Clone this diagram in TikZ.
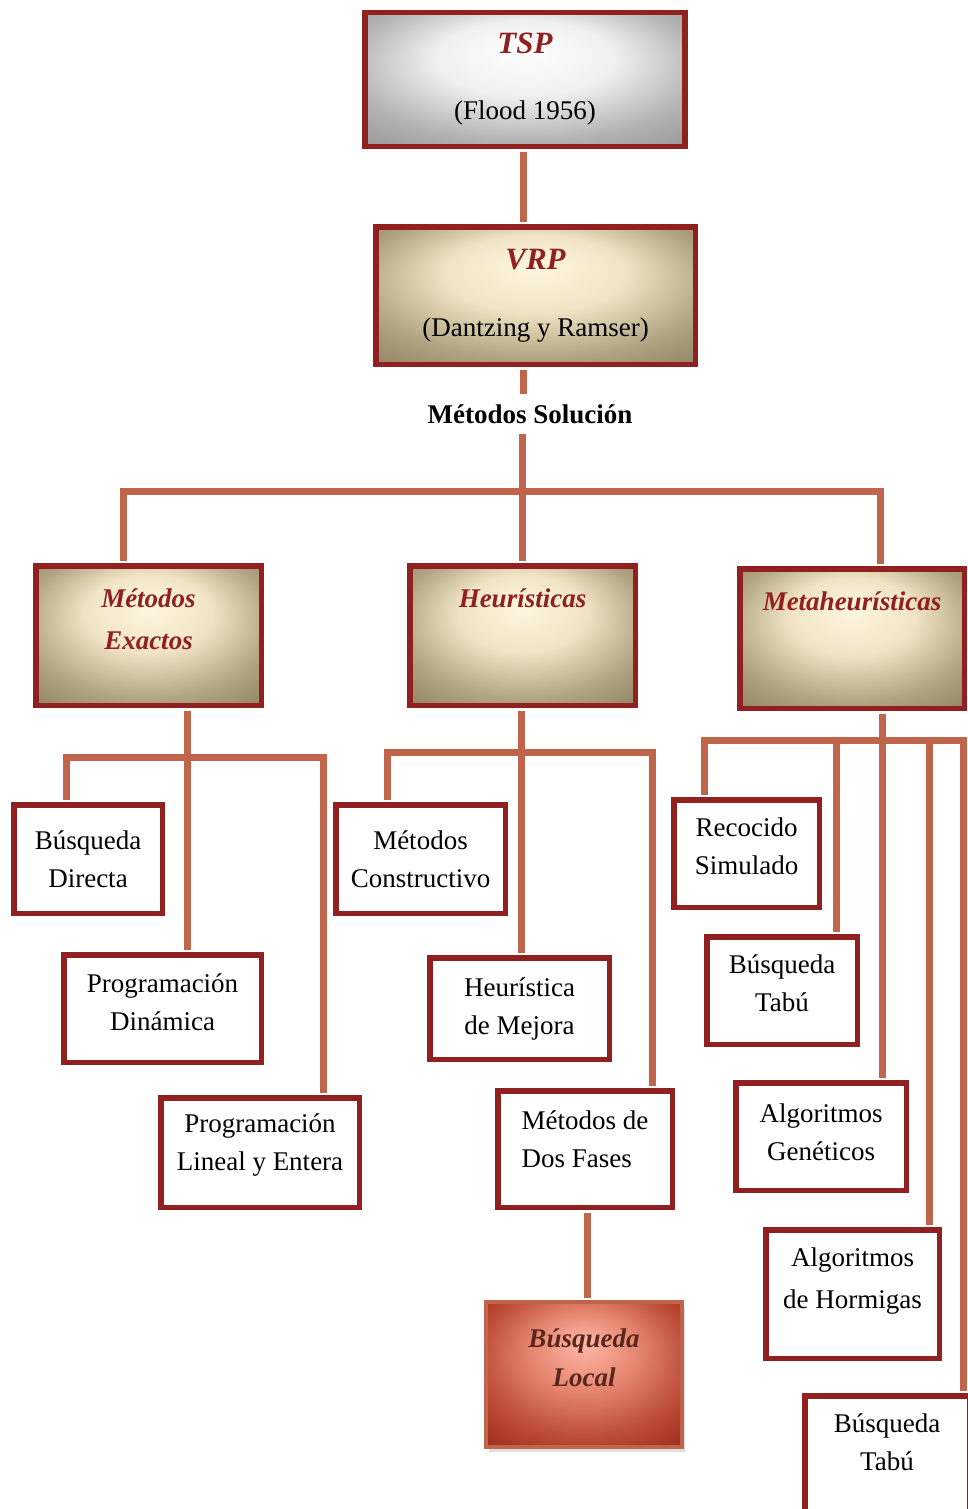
\documentclass[tikz,border=0pt]{standalone}
\usepackage{fontspec}
\setmainfont{Liberation Serif}
\usetikzlibrary{positioning,shadows}
\definecolor{boxred}{RGB}{145,32,32}
\definecolor{linkc}{RGB}{192,101,76}
\definecolor{localtxt}{RGB}{90,38,30}
\definecolor{cream}{RGB}{254,247,224}
\definecolor{creammid}{RGB}{240,228,196}
\definecolor{sandc}{RGB}{176,163,129}
\definecolor{olivec}{RGB}{124,112,82}
\definecolor{pinkc}{RGB}{255,184,168}
\definecolor{rosec}{RGB}{228,132,110}
\definecolor{brickc}{RGB}{185,72,52}
\definecolor{maroonc}{RGB}{138,24,10}
\pgfdeclareradialshading{grayglow}{\pgfpoint{0bp}{11bp}}{color(0bp)=(white); color(14bp)=(black!6); color(28bp)=(black!30); color(44bp)=(black!47); color(50bp)=(black!48)}
\pgfdeclareradialshading{beigeglow}{\pgfpoint{0bp}{11bp}}{color(0bp)=(cream); color(14bp)=(creammid); color(28bp)=(sandc); color(44bp)=(olivec); color(50bp)=(olivec)}
\pgfdeclareradialshading{redglow}{\pgfpoint{0bp}{11bp}}{color(0bp)=(pinkc); color(14bp)=(rosec); color(28bp)=(brickc); color(44bp)=(maroonc); color(50bp)=(maroonc)}
\newcommand{\txtsz}{\fontsize{27}{38}\selectfont}
\newcommand{\ttl}[1]{{\fontsize{31}{38}\selectfont\bfseries\itshape\color{boxred}#1}}

\begin{document}
\begin{tikzpicture}[x=1pt,y=-1pt,font=\txtsz]
\tikzset{
  link/.style={draw=linkc,line width=7pt,shorten <=2.5pt,shorten >=2.5pt},
  leaf/.style={draw=boxred,line width=5.5pt,fill=white,align=center,inner sep=2pt,font=\txtsz},
  topbox/.style={draw=boxred,line width=5.5pt,shade,align=center,font=\txtsz},
  head/.style={topbox,shading=beigeglow,text=boxred,font=\txtsz\bfseries\itshape,minimum height=139.5pt}
}
\useasboundingbox (0,0) rectangle (968,1509);
% problem boxes
\node[topbox,shading=grayglow,minimum width=320pt,minimum height=134pt] (tsp) at (525,79.5) {\ttl{TSP}\\[28pt](Flood 1956)};
\node[topbox,shading=beigeglow,minimum width=319.5pt,minimum height=137.5pt] (vrp) at (535.5,295.5) {\ttl{VRP}\\[29pt](Dantzing y Ramser)};
\node[font=\txtsz\bfseries,inner ysep=8pt] (sol) at (530,414) {Métodos Solución};
% three families
\node[head,minimum width=225.5pt,text depth=33pt] (exact) at (148.5,635.5) {Métodos\\[4pt]Exactos};
\node[head,minimum width=225.5pt,text depth=74pt] (heur) at (522.5,635.5) {Heurísticas};
\node[head,minimum width=224.5pt,text depth=75pt] (meta) at (852,638.5) {Metaheurísticas};
% exact methods
\node[leaf,minimum width=148.5pt,minimum height=108.5pt] (directa) at (88,859) {Búsqueda\\Directa};
\node[leaf,minimum width=197.5pt,minimum height=107.5pt,text depth=12pt] (dyn) at (162.5,1008.5) {Programación\\Dinámica};
\node[leaf,minimum width=198.5pt,minimum height=109.5pt,text depth=20pt] (lineal) at (260,1152.5) {Programación\\Lineal y Entera};
% heuristics
\node[leaf,minimum width=169.5pt,minimum height=108.5pt] (constr) at (420.5,859) {Métodos\\Constructivo};
\node[leaf,minimum width=179.5pt,minimum height=101.5pt] (mejora) at (519.5,1008.5) {Heurística\\de Mejora};
\node[leaf,align=left,minimum width=174.5pt,minimum height=116.5pt,text depth=19pt] (dosf) at (585,1149) {Métodos de\\Dos Fases};
\node[topbox,shading=redglow,draw=linkc,line width=4pt,text=localtxt,font=\txtsz\bfseries\itshape,
  minimum width=196pt,minimum height=145pt,text depth=34pt,
  drop shadow={shadow xshift=3pt,shadow yshift=-5pt,opacity=0.25}] (local) at (584,1374.5) {Búsqueda\\[1pt]Local};
% metaheuristics
\node[leaf,minimum width=145.5pt,minimum height=107.5pt,text depth=14pt] (recoc) at (746.5,853.5) {Recocido\\Simulado};
\node[leaf,minimum width=150.5pt,minimum height=107.5pt,text depth=14pt] (tabu) at (782,990.5) {Búsqueda\\Tabú};
\node[leaf,minimum width=170.5pt,minimum height=107.5pt,text depth=8pt] (genet) at (821,1136.5) {Algoritmos\\Genéticos};
\node[leaf,minimum width=173.5pt,minimum height=128.5pt,text depth=32pt] (horm) at (852.5,1294) {Algoritmos\\[4pt]de Hormigas};
\node[leaf,minimum width=164.5pt,minimum height=121.5pt,text depth=28pt] (tabu2) at (887,1456.5) {Búsqueda\\Tabú};
% connectors
\coordinate (trunk) at (523,0);
\coordinate (topbar) at (523,491);
\coordinate (xbar) at (187,757);
\coordinate (hbar) at (521,752);
\coordinate (mbar) at (882,740);
\draw[link] (tsp.south -| trunk) -- (vrp.north -| trunk);
\draw[link] (vrp.south -| trunk) -- (sol.north -| trunk);
\draw[link] (sol.south -| heur.north) -- (heur.north);
\draw[link] ([xshift=-25.5pt]exact.north) |- (topbar) -| ([xshift=28pt]meta.north);
\draw[link] ([xshift=38.5pt]exact.south) -- ([xshift=24.5pt]dyn.north);
\draw[link] ([xshift=-22pt]directa.north) |- (xbar) -| ([xshift=63pt]lineal.north);
\draw[link] ([xshift=-1.5pt]heur.south) -- ([xshift=1.5pt]mejora.north);
\draw[link] ([xshift=-33.5pt]constr.north) |- (hbar) -| ([xshift=67pt]dosf.north);
\draw[link] ([xshift=2pt]dosf.south) -- ([xshift=3pt]local.north);
\draw[link] ([xshift=30pt]meta.south) -- ([xshift=61pt]genet.north);
\draw[link] ([xshift=-42.5pt]recoc.north) |- (mbar) -| ([xshift=76pt]tabu2.north);
\draw[link] ([xshift=54pt]tabu.north) -- ([xshift=54pt]tabu.north |- mbar);
\draw[link] ([xshift=76.5pt]horm.north) -- ([xshift=76.5pt]horm.north |- mbar);
\end{tikzpicture}
\end{document}
